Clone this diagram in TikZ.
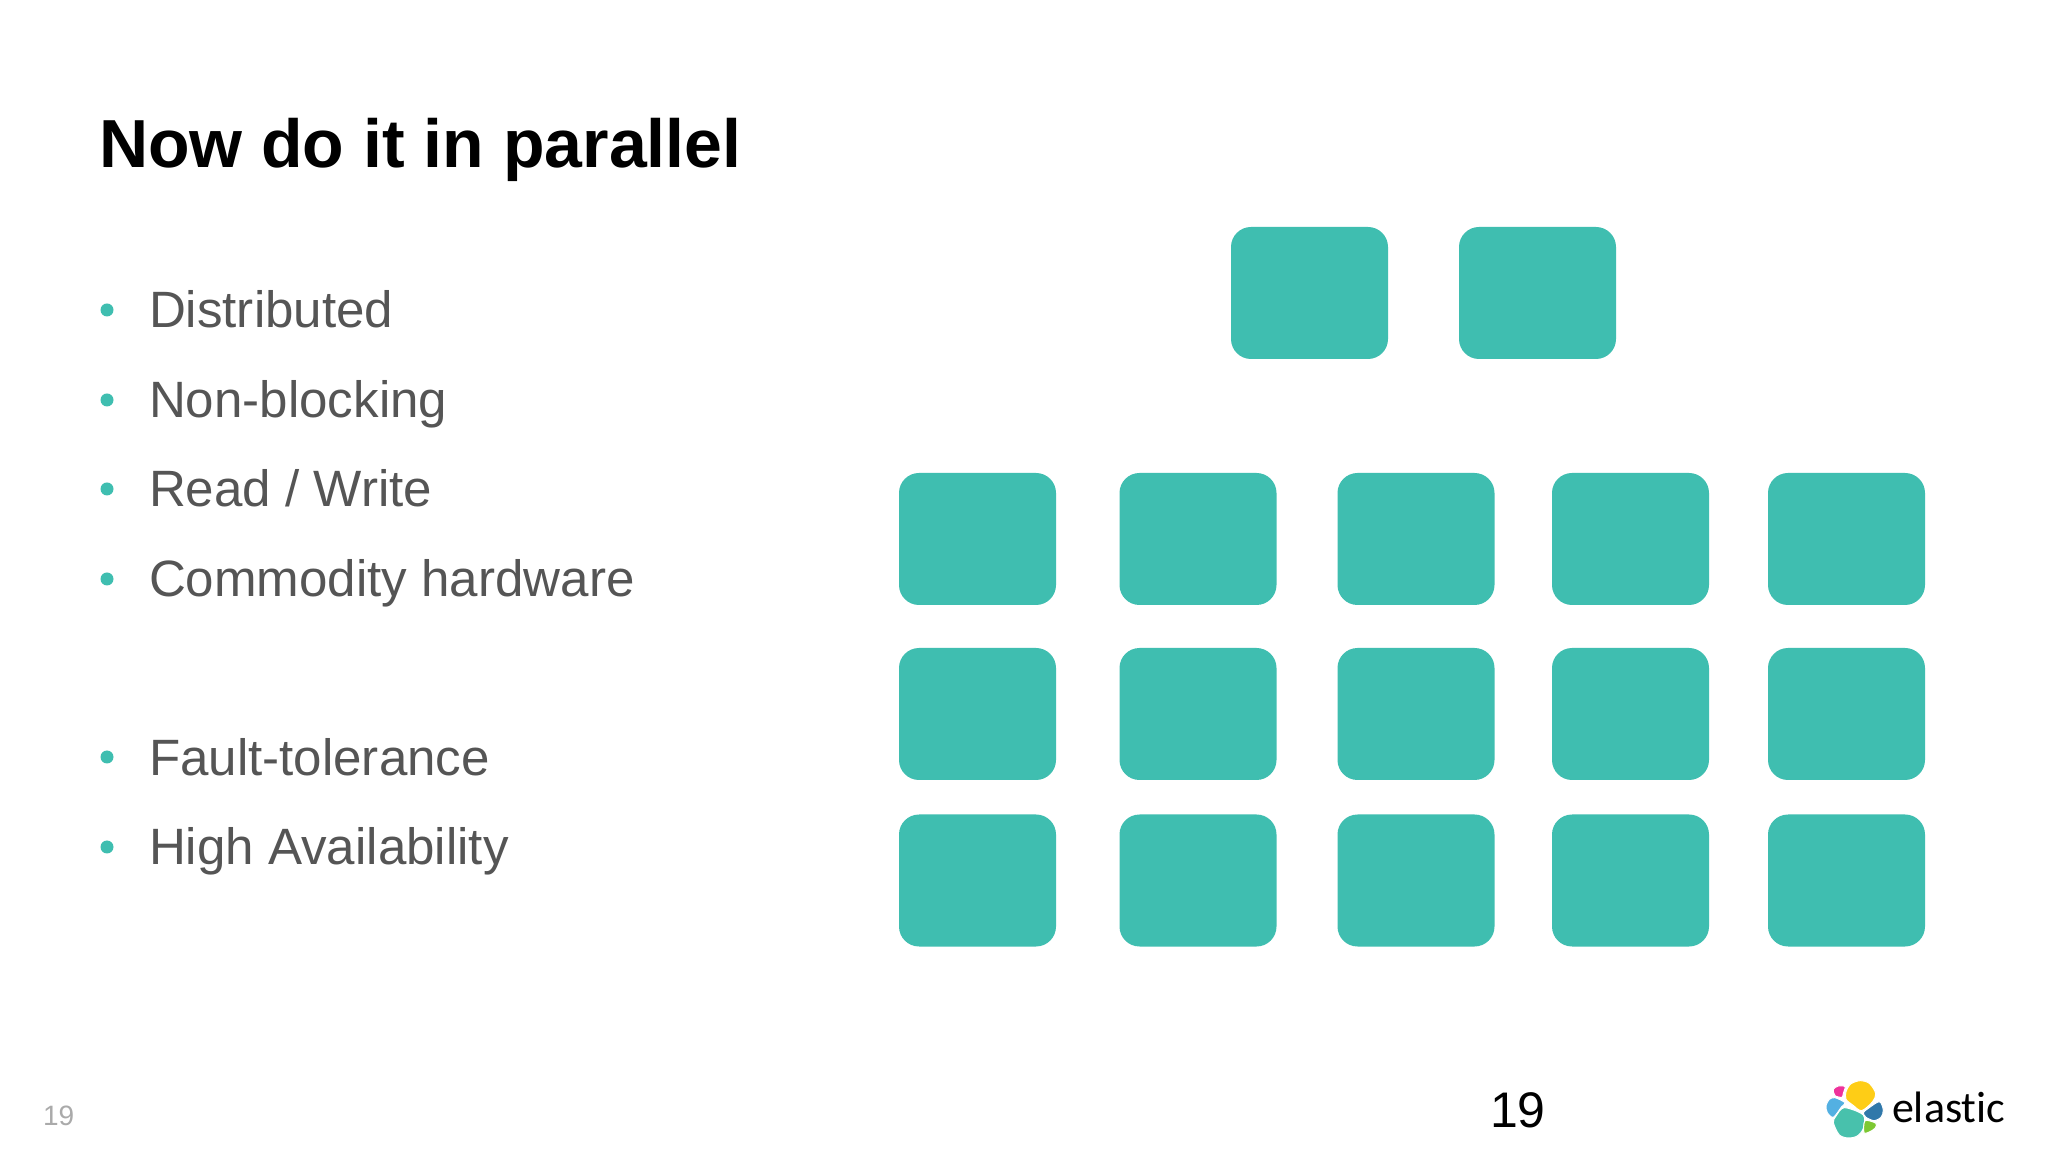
\documentclass[tikz,border=0pt]{standalone}
\usepackage{fontspec}
\setmainfont{Liberation Sans}
\newfontfamily\logoFont[Ligatures=NoCommon]{Carlito}
\tikzset{
  titleText/.style={text=black,anchor=base west,inner sep=0pt,outer sep=0pt,font=\fontsize{68}{80}\selectfont\bfseries},
  itemText/.style={text=itemColor,anchor=base west,inner sep=0pt,outer sep=0pt,font=\fontsize{51.1}{60}\selectfont},
  itemDot/.style={circle,fill=boxColor,inner sep=0pt,minimum size=13pt},
  boxNode/.style={rectangle,fill=boxColor,rounded corners=20pt,inner sep=0pt,minimum width=157pt,minimum height=132pt},
  logoBlob/.style={draw=white,line width=1pt,line join=round},
}
\begin{document}
\begin{tikzpicture}[x=1pt,y=1pt]
\definecolor{fillColor}{RGB}{255,255,255}
\definecolor{boxColor}{RGB}{63,190,176}
\definecolor{itemColor}{RGB}{85,85,85}
\definecolor{pageColor}{RGB}{170,170,170}
\definecolor{logoYellow}{RGB}{254,205,22}
\definecolor{logoPink}{RGB}{238,50,155}
\definecolor{logoBlue}{RGB}{83,176,226}
\definecolor{logoNavy}{RGB}{48,120,170}
\definecolor{logoTeal}{RGB}{72,193,172}
\definecolor{logoGreen}{RGB}{125,200,50}
\path[use as bounding box,fill=fillColor] (0,0) rectangle (2048,1152);

\node[titleText] (title) at (99,984.5) {Now do it in parallel};

\node[itemDot] (dotA) at (107,842) {};
\node[itemDot] (dotB) at (107,752) {};
\node[itemDot] (dotC) at (107,663) {};
\node[itemDot] (dotD) at (107,573) {};
\node[itemDot] (dotE) at (107,395) {};
\node[itemDot] (dotF) at (107,305) {};

\node[itemText] (itemA) at (149,824.5) {Distributed};
\node[itemText] (itemB) at (149,734.5) {Non-blocking};
\node[itemText] (itemC) at (149,645) {Read / Write};
\node[itemText] (itemD) at (149,555.5) {Commodity hardware};
\node[itemText] (itemE) at (149,376.5) {Fault-tolerance};
\node[itemText] (itemF) at (149,287.5) {High Availability};

\node[boxNode] (topA) at (1309.5,859) {};
\node[boxNode] (topB) at (1537.5,859) {};

\node[boxNode] (rowA1) at ( 977.5,613) {};
\node[boxNode] (rowA2) at (1198.0,613) {};
\node[boxNode] (rowA3) at (1416.0,613) {};
\node[boxNode] (rowA4) at (1630.5,613) {};
\node[boxNode] (rowA5) at (1846.5,613) {};

\node[boxNode] (rowB1) at ( 977.5,438) {};
\node[boxNode] (rowB2) at (1198.0,438) {};
\node[boxNode] (rowB3) at (1416.0,438) {};
\node[boxNode] (rowB4) at (1630.5,438) {};
\node[boxNode] (rowB5) at (1846.5,438) {};

\node[boxNode] (rowC1) at ( 977.5,271.5) {};
\node[boxNode] (rowC2) at (1198.0,271.5) {};
\node[boxNode] (rowC3) at (1416.0,271.5) {};
\node[boxNode] (rowC4) at (1630.5,271.5) {};
\node[boxNode] (rowC5) at (1846.5,271.5) {};

\node[text=pageColor,anchor=base west,inner sep=0pt,outer sep=0pt,font=\fontsize{28}{32}\selectfont] (pageSmall) at (43,27) {19};
\node[text=black,anchor=base west,inner sep=0pt,outer sep=0pt,font=\fontsize{50}{58}\selectfont] (pageBig) at (1490,25) {19};

\begin{scope}[shift={(1780,92)},x=0.3333pt,y=-0.3333pt]
\path[logoBlob,fill=logoYellow] plot[smooth cycle] coordinates {(198,95) (212,72) (240,62) (268,70) (287,100) (278,125) (245,152) (218,135) (198,118)};
\path[logoBlob,fill=logoPink] plot[smooth cycle] coordinates {(160,88) (175,78) (195,80) (190,100) (186,112) (165,107)};
\path[logoBlob,fill=logoBlue] plot[smooth cycle] coordinates {(138,138) (148,118) (165,113) (195,128) (185,140) (160,172) (142,158)};
\path[logoBlob,fill=logoNavy] plot[smooth cycle] coordinates {(250,158) (265,145) (298,125) (310,150) (303,172) (282,182) (258,172)};
\path[logoBlob,fill=logoTeal] plot[smooth cycle] coordinates {(160,188) (168,168) (193,143) (250,165) (250,205) (232,228) (205,234) (178,225)};
\path[logoBlob,fill=logoGreen] plot[smooth cycle] coordinates {(255,182) (288,190) (285,205) (268,216) (252,218)};
\end{scope}
\node[text=black,anchor=base west,inner sep=0pt,outer sep=0pt,font=\logoFont\fontsize{44}{50}\selectfont] (logoText) at (1892,30) {elastic};
\end{tikzpicture}
\end{document}
